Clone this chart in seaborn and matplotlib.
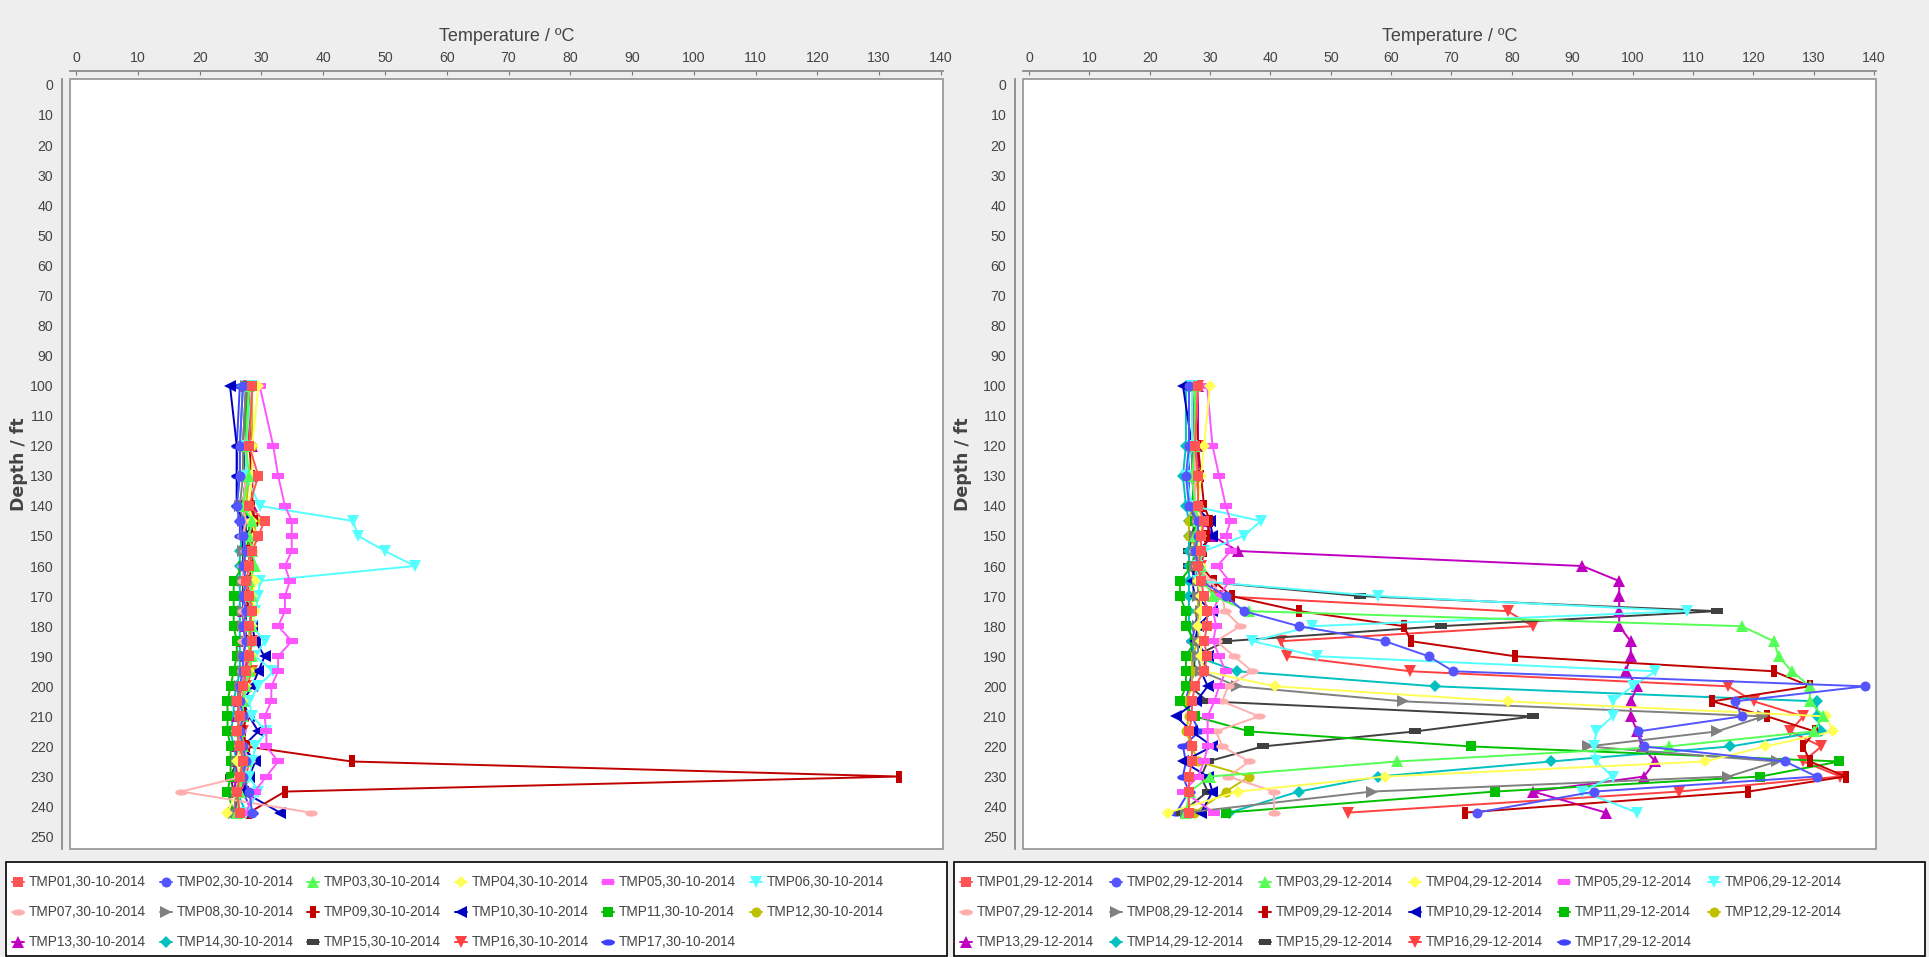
import numpy as np
import pandas as pd
import matplotlib
matplotlib.use("Agg")
import matplotlib.pyplot as plt
from matplotlib.lines import Line2D
from matplotlib.patches import Rectangle
import seaborn as sns

sns.set_theme(style="white")
plt.rcParams["font.family"] = ["Liberation Sans", "DejaVu Sans"]

# ---------------- data ----------------
depths = [100, 120, 130, 140, 145, 150, 155, 160, 165, 170, 175, 180,
          185, 190, 195, 200, 205, 210, 215, 220, 225, 230, 235, 242]
sensor_names = ["TMP01", "TMP02", "TMP03", "TMP04", "TMP05", "TMP06", "TMP07", "TMP08", "TMP09",
                "TMP10", "TMP11", "TMP12", "TMP13", "TMP14", "TMP15", "TMP16", "TMP17"]
date_left = "30-10-2014"
date_right = "29-12-2014"
x_ticks = list(range(0, 141, 10))
y_ticks = list(range(0, 251, 10))

# 30-10-2014 profiles (temperature, degC, at each depth)
oct_tmp01 = [28.5, 28.0, 29.5, 28.0, 30.5, 29.5, 28.5, 28.0, 27.5, 28.0, 28.5, 28.0, 28.5, 28.0, 27.5, 27.0, 26.0, 26.5, 26.0, 26.5, 27.0, 26.5, 26.0, 26.5]
oct_tmp02 = [27.0, 26.5, 26.5, 26.0, 26.5, 27.0, 27.5, 27.0, 27.5, 27.0, 27.5, 27.0, 27.5, 27.0, 27.0, 26.5, 26.5, 27.0, 26.5, 27.0, 27.5, 27.0, 28.0, 28.5]
oct_tmp03 = [28.0, 27.5, 28.0, 27.0, 28.5, 28.0, 28.5, 29.0, 28.0, 28.5, 28.0, 28.5, 28.0, 28.5, 28.0, 27.5, 27.0, 27.0, 26.5, 27.0, 27.5, 27.0, 26.5, 26.0]
oct_tmp04 = [29.5, 28.5, 28.5, 28.0, 28.5, 29.0, 28.5, 28.0, 29.0, 28.5, 29.0, 28.5, 28.0, 28.5, 28.0, 27.5, 27.0, 26.5, 26.0, 26.5, 26.0, 26.5, 26.0, 24.5]
oct_tmp05 = [29.7, 31.9, 32.7, 33.8, 34.9, 34.9, 34.9, 33.8, 34.6, 33.8, 33.8, 32.7, 34.9, 32.7, 32.7, 31.6, 31.6, 30.5, 30.8, 30.8, 32.7, 30.8, 28.9, 27.5]
oct_tmp06 = [28.5, 27.5, 27.5, 29.7, 44.8, 45.7, 50.0, 54.8, 29.7, 29.5, 29.0, 28.5, 30.5, 29.0, 31.9, 29.5, 28.0, 28.5, 30.8, 29.0, 28.5, 28.0, 29.5, 27.5]
oct_tmp07 = [28.0, 27.5, 27.5, 27.0, 27.5, 27.0, 27.5, 27.0, 27.0, 27.5, 27.0, 27.5, 27.0, 27.5, 27.0, 27.0, 26.5, 27.0, 26.5, 27.0, 28.0, 27.0, 17.0, 38.0]
oct_tmp08 = [27.5, 27.0, 27.0, 26.5, 27.0, 27.5, 27.0, 27.5, 27.0, 27.5, 27.0, 27.0, 27.5, 27.0, 27.0, 26.5, 26.0, 26.5, 26.0, 26.5, 26.0, 26.5, 26.0, 25.5]
oct_tmp09 = [28.0, 28.0, 28.5, 28.5, 29.0, 28.5, 28.0, 28.5, 28.0, 27.5, 28.0, 28.5, 28.0, 28.5, 28.0, 27.5, 27.0, 27.5, 27.0, 27.6, 44.6, 133.3, 33.8, 28.0]
oct_tmp10 = [24.9, 26.0, 26.0, 26.0, 27.0, 27.0, 27.0, 27.5, 27.0, 27.5, 28.0, 28.5, 29.0, 30.5, 29.5, 28.5, 27.0, 28.0, 29.5, 27.0, 29.0, 28.0, 27.0, 33.0]
oct_tmp11 = [27.5, 27.5, 27.5, 27.0, 28.0, 28.0, 27.5, 27.0, 25.5, 25.5, 25.5, 25.5, 26.0, 26.0, 25.5, 25.0, 24.5, 24.5, 24.5, 25.0, 25.0, 25.0, 24.5, 25.5]
oct_tmp12 = [28.5, 28.5, 28.0, 27.5, 29.0, 29.0, 28.5, 28.0, 28.5, 28.5, 28.5, 28.0, 28.0, 28.0, 28.5, 27.0, 26.5, 27.0, 26.5, 27.5, 26.5, 27.0, 26.0, 26.5]
oct_tmp13 = [27.5, 28.5, 28.5, 28.5, 28.5, 28.5, 28.5, 28.5, 28.0, 27.5, 27.0, 27.5, 27.0, 27.5, 27.5, 27.0, 26.5, 26.0, 26.5, 26.0, 26.0, 26.0, 25.5, 26.0]
oct_tmp14 = [27.0, 26.5, 26.5, 26.0, 27.0, 27.0, 26.5, 26.5, 26.5, 26.5, 26.5, 26.5, 26.5, 26.5, 26.5, 26.0, 25.5, 25.5, 25.0, 25.5, 26.0, 25.5, 26.0, 27.5]
oct_tmp15 = [27.5, 27.0, 27.5, 27.0, 27.5, 27.5, 27.0, 27.0, 27.0, 27.0, 27.5, 27.5, 27.0, 27.5, 27.5, 26.5, 26.0, 26.5, 26.0, 26.5, 26.0, 25.0, 25.5, 26.5]
oct_tmp16 = [28.0, 27.5, 27.5, 27.0, 28.0, 28.0, 28.0, 28.0, 28.5, 28.0, 28.5, 28.0, 28.5, 28.0, 28.5, 27.5, 27.0, 27.5, 27.0, 27.5, 28.0, 27.5, 27.0, 25.5]
oct_tmp17 = [26.5, 26.0, 26.0, 26.0, 26.5, 26.5, 27.0, 27.0, 27.0, 27.0, 27.0, 27.5, 27.5, 27.0, 27.5, 27.0, 26.5, 27.0, 26.5, 27.0, 27.0, 27.0, 27.0, 28.5]

# 29-12-2014 profiles
dec_tmp01 = [28.0, 27.5, 28.0, 28.0, 29.0, 28.5, 28.5, 28.0, 28.5, 29.0, 29.5, 29.5, 29.0, 29.5, 29.0, 27.5, 27.0, 27.0, 26.5, 27.0, 27.0, 26.5, 26.5, 26.5]
dec_tmp02 = [26.5, 26.5, 26.0, 26.5, 28.0, 28.0, 27.5, 28.0, 28.5, 32.6, 35.6, 44.7, 59.0, 66.2, 70.3, 138.5, 117.0, 118.1, 100.9, 101.9, 125.3, 130.5, 93.7, 74.2]
dec_tmp03 = [27.5, 27.5, 27.0, 27.5, 28.0, 27.5, 28.0, 28.5, 29.0, 30.5, 36.5, 118.1, 123.4, 124.2, 126.4, 129.4, 129.4, 131.6, 130.0, 106.0, 61.0, 30.0, 26.6, 26.0]
dec_tmp04 = [30.0, 29.0, 28.5, 28.0, 28.5, 28.5, 28.0, 28.5, 28.0, 28.5, 28.5, 28.0, 28.5, 28.5, 29.0, 40.8, 79.3, 132.1, 133.2, 122.0, 112.0, 59.0, 34.6, 23.0]
dec_tmp05 = [29.5, 30.4, 31.5, 32.6, 33.4, 32.6, 33.4, 31.2, 33.2, 31.5, 30.5, 31.0, 30.5, 31.5, 32.6, 31.5, 30.7, 29.6, 29.6, 29.6, 29.0, 28.0, 25.5, 30.7]
dec_tmp06 = [27.0, 27.0, 26.0, 27.0, 38.4, 35.6, 29.0, 28.0, 28.0, 57.9, 109.0, 46.9, 37.0, 47.7, 103.8, 100.0, 96.7, 96.7, 94.0, 93.6, 94.0, 96.7, 91.7, 100.8]
dec_tmp07 = [28.0, 27.5, 27.5, 27.5, 28.0, 28.0, 27.5, 28.0, 30.0, 32.0, 32.5, 35.0, 31.0, 34.0, 37.0, 33.0, 32.0, 38.1, 31.0, 32.0, 36.5, 33.0, 40.6, 40.6]
dec_tmp08 = [27.5, 27.0, 27.0, 27.5, 28.0, 27.5, 27.5, 27.5, 28.0, 28.0, 28.5, 28.0, 28.0, 28.0, 28.5, 34.5, 62.0, 121.7, 114.0, 92.6, 123.9, 115.9, 56.8, 26.0]
dec_tmp09 = [27.5, 28.0, 28.5, 29.0, 30.0, 29.5, 29.0, 28.5, 30.6, 33.6, 44.8, 62.1, 63.3, 80.5, 123.4, 129.4, 113.2, 122.3, 130.2, 128.3, 129.4, 135.3, 119.2, 72.2]
dec_tmp10 = [25.5, 27.0, 27.0, 27.5, 30.0, 30.4, 28.0, 27.5, 27.0, 27.5, 30.4, 28.0, 27.5, 29.6, 28.5, 29.6, 27.7, 24.4, 27.0, 30.4, 25.5, 29.6, 30.4, 28.5]
dec_tmp11 = [27.0, 27.0, 27.5, 27.0, 27.5, 27.5, 27.5, 27.0, 25.0, 25.0, 26.0, 26.0, 27.5, 26.0, 26.0, 26.0, 25.0, 27.5, 36.5, 73.3, 134.3, 121.2, 77.2, 32.6]
dec_tmp12 = [27.0, 27.5, 28.0, 27.0, 26.5, 26.5, 28.0, 28.0, 28.0, 28.0, 28.0, 28.0, 28.0, 27.0, 27.0, 27.0, 26.0, 26.5, 26.0, 27.0, 28.0, 36.5, 32.6, 27.4]
dec_tmp13 = [28.0, 28.0, 28.0, 28.0, 29.0, 30.4, 34.6, 91.7, 97.8, 97.8, 97.8, 97.8, 99.7, 99.7, 98.9, 100.8, 99.7, 99.7, 100.8, 101.5, 103.8, 101.9, 83.5, 95.6]
dec_tmp14 = [26.0, 26.0, 25.5, 26.0, 26.5, 26.5, 26.5, 26.5, 26.5, 26.5, 26.5, 26.5, 27.0, 27.5, 34.5, 67.3, 130.5, 130.5, 131.3, 116.2, 86.5, 57.9, 44.7, 33.2]
dec_tmp15 = [27.5, 27.5, 27.5, 27.0, 27.5, 27.0, 26.5, 26.5, 28.0, 54.9, 114.0, 68.3, 32.6, 27.4, 27.4, 26.6, 29.6, 83.5, 64.0, 38.7, 29.6, 28.5, 29.6, 25.3]
dec_tmp16 = [28.0, 28.0, 28.0, 28.0, 29.0, 28.5, 28.5, 28.5, 28.5, 31.2, 79.3, 83.5, 41.7, 42.8, 63.2, 115.9, 120.1, 128.3, 126.1, 131.3, 128.3, 134.4, 107.7, 52.9]
dec_tmp17 = [26.5, 26.5, 26.5, 26.5, 27.5, 27.5, 27.5, 28.0, 28.0, 28.0, 28.0, 27.5, 27.0, 27.0, 27.0, 26.5, 26.0, 27.0, 28.2, 25.5, 26.0, 25.5, 26.5, 24.4]

oct_series = [oct_tmp01, oct_tmp02, oct_tmp03, oct_tmp04, oct_tmp05, oct_tmp06, oct_tmp07, oct_tmp08, oct_tmp09,
              oct_tmp10, oct_tmp11, oct_tmp12, oct_tmp13, oct_tmp14, oct_tmp15, oct_tmp16, oct_tmp17]
dec_series = [dec_tmp01, dec_tmp02, dec_tmp03, dec_tmp04, dec_tmp05, dec_tmp06, dec_tmp07, dec_tmp08, dec_tmp09,
              dec_tmp10, dec_tmp11, dec_tmp12, dec_tmp13, dec_tmp14, dec_tmp15, dec_tmp16, dec_tmp17]

# ---------------- style ----------------
colors = ["#FF5555", "#5555FF", "#55FF55", "#FFFF55", "#FF55FF", "#55FFFF", "#FFAFAF", "#808080", "#C00000",
          "#0000C0", "#00C000", "#C0C000", "#C000C0", "#00C0C0", "#404040", "#FF4040", "#4040FF"]

_t = np.linspace(0, 2 * np.pi, 41)
ellipse = list(zip(np.cos(_t), 0.5 * np.sin(_t)))
hrect = [(-1, -0.5), (1, -0.5), (1, 0.5), (-1, 0.5), (-1, -0.5)]
vrect = [(-0.5, -1), (0.5, -1), (0.5, 1), (-0.5, 1), (-0.5, -1)]
base_markers = ["s", "o", "^", "D", hrect, "v", ellipse, ">", vrect, "<"]
markers = [base_markers[i % 10] for i in range(17)]
base_sizes = [7.0, 7.2, 8.3, 6.0, 8.5, 8.3, 9.0, 8.3, 9.0, 8.3]
msizes = [base_sizes[i % 10] for i in range(17)]

W, H = 1929, 957
fig = plt.figure(figsize=(W / 100, H / 100), dpi=100, facecolor="#EEEEEE")

def fx(px):
    return px / W

def fy(py):
    return 1 - py / H

panel_boxes = [(70, 943), (1023, 1876)]
top, bottom = 79, 849
TEXT = "#444444"


def draw_panel(box, series, ylabel_x):
    x0, x1 = box
    ax = fig.add_axes([fx(x0), fy(bottom), fx(x1 - x0), (bottom - top) / H])
    ax.set_facecolor("white")
    for i in reversed(range(17)):
        df = pd.DataFrame({"Temperature": series[i], "Depth": depths})
        sns.lineplot(data=df, x="Temperature", y="Depth", sort=False, estimator=None, ax=ax,
                     color=colors[i], lw=1.4, marker=markers[i], markersize=msizes[i],
                     markeredgewidth=0, markeredgecolor=colors[i], markerfacecolor=colors[i],
                     clip_on=True)
    ax.set_xlim(-1.0, 140.35)
    ax.set_ylim(254.1, -1.96)
    ax.set_xticks(x_ticks)
    ax.set_yticks(y_ticks)
    ax.xaxis.set_ticks_position("top")
    ax.xaxis.set_label_position("top")
    for s in ["bottom", "right"]:
        ax.spines[s].set_visible(False)
    ax.spines["top"].set_position(("outward", 6))
    ax.spines["left"].set_position(("outward", 6))
    ax.spines["top"].set_color("#888888")
    ax.spines["left"].set_color("#888888")
    ax.add_patch(Rectangle((0, 0), 1, 1, transform=ax.transAxes, fill=False,
                           ec="#9A9A9A", lw=1.3, clip_on=False, zorder=10))
    ax.tick_params(axis="x", direction="in", length=3, width=0.8, color="#777777",
                   labelsize=10.2, labelcolor=TEXT, pad=4)
    ax.tick_params(axis="y", direction="out", length=3, width=0.8, color="#777777",
                   labelsize=10.2, labelcolor=TEXT, pad=3)
    ax.set_xlabel("Temperature / ºC", fontsize=13, color=TEXT, labelpad=7)
    ax.set_ylabel("Depth / ft", fontsize=12.5, color=TEXT, fontweight="bold",
                  family=["DejaVu Sans"])
    ax.yaxis.set_label_coords(ylabel_x, 0.5)
    ax.grid(False)
    return ax


ax_l = draw_panel(panel_boxes[0], oct_series, -0.048)
ax_r = draw_panel(panel_boxes[1], dec_series, -0.060)

# ---------------- legends ----------------
legend_boxes = [(6, 947, date_left), (954, 1925, date_right)]
for (lx0, lx1, date) in legend_boxes:
    fig.add_artist(Rectangle((fx(lx0), fy(956)), fx(lx1 - lx0), (956 - 862) / H,
                             transform=fig.transFigure, facecolor="white",
                             edgecolor="black", lw=1.2, zorder=1))
    pitch = 147.5 if lx0 < 500 else 149.5
    for i, name in enumerate(sensor_names):
        row, col = divmod(i, 6)
        xc = lx0 + 12 + pitch * col
        yc = 882 + 30.2 * row
        fig.add_artist(Line2D([fx(xc - 6), fx(xc + 6)], [fy(yc), fy(yc)],
                              transform=fig.transFigure, color=colors[i], lw=1.4, zorder=2))
        fig.add_artist(Line2D([fx(xc)], [fy(yc)], transform=fig.transFigure,
                              marker=markers[i], markersize=msizes[i], markeredgewidth=0,
                              color=colors[i], zorder=3))
        fig.text(fx(xc + 11), fy(yc), f"{name},{date}", fontsize=9.8, color=TEXT,
                 ha="left", va="center", zorder=4)

fig.savefig("out.png", dpi=100, facecolor=fig.get_facecolor())
